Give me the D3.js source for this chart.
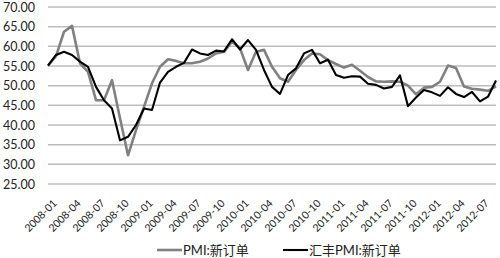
<!DOCTYPE html>
<html>
<head>
<meta charset="utf-8">
<script src="https://cdn.jsdelivr.net/npm/d3@7"></script>
<style>
  body { margin: 0; background: #fff; }
  svg { display: block; font-family: Lato, "Noto Sans CJK SC", sans-serif; }
</style>
</head>
<body>
<div id="chart"></div>
<script>
// months on the x axis
var months = [
  "2008-01","2008-02","2008-03","2008-04","2008-05","2008-06","2008-07","2008-08","2008-09","2008-10","2008-11","2008-12",
  "2009-01","2009-02","2009-03","2009-04","2009-05","2009-06","2009-07","2009-08","2009-09","2009-10","2009-11","2009-12",
  "2010-01","2010-02","2010-03","2010-04","2010-05","2010-06","2010-07","2010-08","2010-09","2010-10","2010-11","2010-12",
  "2011-01","2011-02","2011-03","2011-04","2011-05","2011-06","2011-07","2011-08","2011-09","2011-10","2011-11","2011-12",
  "2012-01","2012-02","2012-03","2012-04","2012-05","2012-06","2012-07","2012-08","2012-09"
];

// labelled months (every third)
var tickMonths = months.filter(function (m, i) { return i % 3 === 0 && i < 56; });

// PMI: new orders (grey)
var pmiNewOrders = [
  55.1, 57.5, 63.7, 65.2, 55.7, 53.5, 46.3, 46.3, 51.4, 41.7, 32.3, 38.7,
  44.6, 50.6, 54.8, 56.7, 56.3, 55.7, 55.7, 56.1, 56.9, 58.2, 58.6, 61.2,
  59.5, 54.0, 58.6, 59.1, 54.8, 51.9, 51.0, 54.0, 56.5, 58.2, 58.0, 56.5,
  55.5, 54.6, 55.3, 53.8, 52.2, 51.1, 51.0, 51.1, 51.0, 50.0, 47.8, 49.5,
  49.7, 51.0, 55.1, 54.5, 49.8, 49.2, 49.0, 48.7, 49.8
];

// HSBC PMI: new orders (black)
var hsbcNewOrders = [
  55.1, 57.8, 58.6, 57.8, 56.1, 54.8, 49.7, 46.3, 44.2, 36.1, 37.0, 40.0,
  44.2, 43.8, 50.8, 53.5, 54.8, 55.8, 59.2, 58.2, 57.8, 58.9, 58.7, 61.8,
  59.2, 61.6, 59.1, 54.0, 49.7, 47.9, 52.7, 54.4, 58.2, 59.1, 55.7, 56.6,
  52.7, 52.0, 52.4, 52.3, 50.5, 50.2, 49.3, 49.7, 52.6, 44.8, 47.0, 48.9,
  48.3, 47.4, 49.6, 47.9, 47.1, 48.4, 46.0, 47.2, 51.3
];

var yTicks = [25, 30, 35, 40, 45, 50, 55, 60, 65, 70];

var seriesNames = ["PMI:新订单", "汇丰PMI:新订单"];
var seriesColors = ["#808080", "#000000"];

var svgWidth = 500;
var svgHeight = 258;

var margin = { top: 7, right: 4, bottom: 74, left: 48 };
var chartWidth = svgWidth - margin.left - margin.right;
var chartHeight = svgHeight - margin.top - margin.bottom;

var svg = d3.select("#chart").append("svg")
  .attr("width", svgWidth)
  .attr("height", svgHeight);

var chartGroup = svg.append("g")
  .attr("transform", `translate(${margin.left}, ${margin.top})`);

var xScale = d3.scalePoint()
  .domain(months)
  .range([0, chartWidth]);

var yScale = d3.scaleLinear()
  .domain([25, 70])
  .range([chartHeight, 0]);

// horizontal gridlines
chartGroup.append("g")
  .selectAll("line")
  .data(yTicks)
  .enter()
  .append("line")
  .attr("x1", 0)
  .attr("x2", chartWidth)
  .attr("y1", d => yScale(d))
  .attr("y2", d => yScale(d))
  .attr("stroke", "#bdbdbd")
  .attr("stroke-width", 1.5);

// y axis labels
var yAxis = d3.axisLeft(yScale)
  .tickValues(yTicks)
  .tickFormat(d3.format(".2f"))
  .tickSize(0)
  .tickPadding(13);

var yAxisGroup = chartGroup.append("g").call(yAxis);
yAxisGroup.select(".domain").remove();
yAxisGroup.selectAll("text")
  .attr("font-size", "12.5px")
  .attr("font-family", "Lato, sans-serif")
  .attr("fill", "#222");

// x axis labels, rotated
var xAxis = d3.axisBottom(xScale)
  .tickValues(tickMonths)
  .tickSize(0)
  .tickPadding(0);

var xAxisGroup = chartGroup.append("g")
  .attr("transform", `translate(0, ${chartHeight})`)
  .call(xAxis);
xAxisGroup.select(".domain").remove();
xAxisGroup.selectAll("text")
  .attr("font-size", "10.5px")
  .attr("font-family", "Lato, sans-serif")
  .attr("fill", "#222")
  .attr("text-anchor", "end")
  .attr("dy", null)
  .attr("y", 0)
  .attr("transform", "translate(9, 20) rotate(-45)");

// lines
var line = d3.line()
  .x((d, i) => xScale(months[i]))
  .y(d => yScale(d));

[pmiNewOrders, hsbcNewOrders].forEach(function (values, k) {
  chartGroup.append("path")
    .datum(values)
    .attr("fill", "none")
    .attr("stroke", seriesColors[k])
    .attr("stroke-width", k === 0 ? 2.6 : 2.1)
    .attr("stroke-linejoin", "round")
    .attr("d", line);
});

// legend
var legendX = [157, 283];
var legend = svg.append("g");
seriesNames.forEach(function (name, k) {
  legend.append("line")
    .attr("x1", legendX[k])
    .attr("x2", legendX[k] + 25)
    .attr("y1", 250)
    .attr("y2", 250)
    .attr("stroke", seriesColors[k])
    .attr("stroke-width", k === 0 ? 2.6 : 2.1);
  legend.append("text")
    .attr("x", legendX[k] + 26)
    .attr("y", 254.5)
    .attr("font-size", "13px")
    .attr("fill", "#222")
    .text(name);
});
</script>
</body>
</html>
